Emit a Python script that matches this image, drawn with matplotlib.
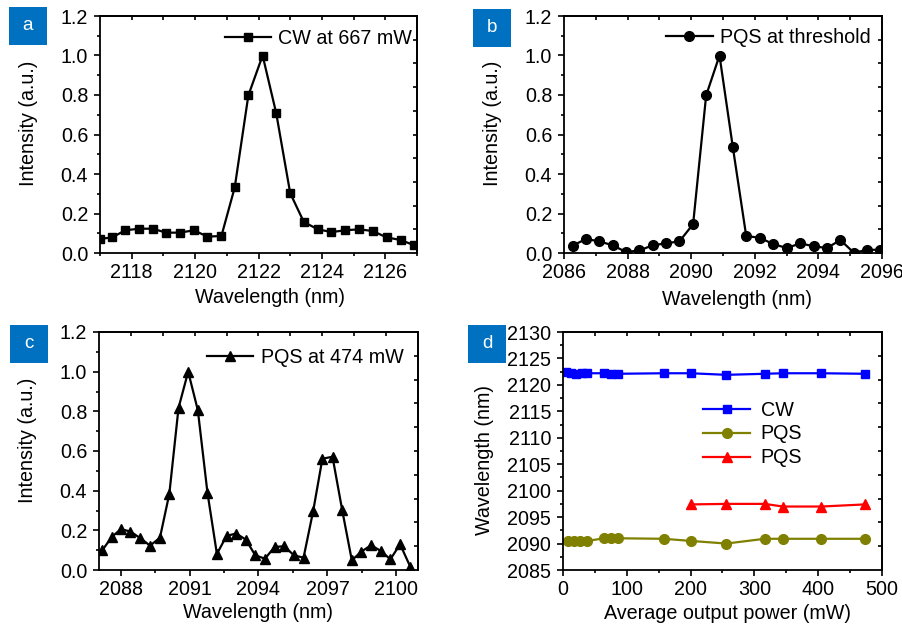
import numpy as np
import matplotlib
matplotlib.use("Agg")
import matplotlib.pyplot as plt
from matplotlib.patches import Rectangle
from matplotlib.ticker import MultipleLocator, NullFormatter, FixedLocator

plt.rcParams['font.family'] = ['Liberation Sans', 'DejaVu Sans']
plt.rcParams['font.size'] = 14.2

# ---------------- data ----------------
# (a) CW at 667 mW
a_wl = [2116.99, 2117.38, 2117.80, 2118.23, 2118.66, 2119.09, 2119.52, 2119.96,
        2120.39, 2120.83, 2121.25, 2121.68, 2122.13, 2122.56, 2123.00, 2123.43,
        2123.87, 2124.30, 2124.74, 2125.18, 2125.61, 2126.04, 2126.48, 2126.90]
a_int = [0.071, 0.079, 0.115, 0.123, 0.123, 0.103, 0.103, 0.115, 0.083, 0.086,
         0.332, 0.798, 1.0, 0.707, 0.303, 0.157, 0.12, 0.106, 0.115, 0.12,
         0.111, 0.079, 0.066, 0.04]

# (b) PQS at threshold
b_wl = [2086.27, 2086.69, 2087.11, 2087.53, 2087.95, 2088.37, 2088.79, 2089.21,
        2089.63, 2090.06, 2090.47, 2090.89, 2091.31, 2091.73, 2092.16, 2092.58,
        2093.01, 2093.43, 2093.85, 2094.27, 2094.69, 2095.11, 2095.53, 2095.95]
b_int = [0.037, 0.071, 0.059, 0.039, 0.005, 0.013, 0.039, 0.049, 0.059, 0.146,
         0.798, 1.0, 0.535, 0.086, 0.077, 0.045, 0.025, 0.049, 0.034, 0.025,
         0.066, 0.002, 0.015, 0.017]

# (c) PQS at 474 mW
c_wl = [2087.20, 2087.62, 2088.01, 2088.43, 2088.86, 2089.28, 2089.71, 2090.12,
        2090.52, 2090.94, 2091.36, 2091.78, 2092.19, 2092.61, 2093.03, 2093.45,
        2093.86, 2094.28, 2094.70, 2095.12, 2095.54, 2095.96, 2096.38, 2096.78,
        2097.22, 2097.64, 2098.06, 2098.48, 2098.90, 2099.32, 2099.74, 2100.16,
        2100.61]
c_int = [0.099, 0.167, 0.206, 0.194, 0.160, 0.123, 0.162, 0.384, 0.817, 1.0,
         0.806, 0.389, 0.081, 0.172, 0.184, 0.153, 0.074, 0.057, 0.116, 0.12,
         0.074, 0.062, 0.298, 0.561, 0.571, 0.303, 0.049, 0.093, 0.125, 0.096,
         0.054, 0.13, 0.015]

# (d) wavelength vs average output power
cw_pow = [4, 12, 21, 30, 38, 65, 76, 86, 158, 200, 256, 316, 345, 405, 473]
cw_wl = [2122.4, 2122.3, 2122.1, 2122.2, 2122.2, 2122.2, 2122.0, 2122.1,
         2122.2, 2122.2, 2121.9, 2122.1, 2122.2, 2122.2, 2122.1]
pqs1_pow = [8, 17, 26, 38, 65, 76, 86, 158, 200, 256, 316, 345, 405, 473]
pqs1_wl = [2090.5, 2090.5, 2090.5, 2090.5, 2091.0, 2091.0, 2091.0, 2090.9,
           2090.5, 2090.0, 2090.9, 2090.9, 2090.9, 2090.9]
pqs2_pow = [200, 256, 316, 345, 405, 473]
pqs2_wl = [2097.4, 2097.5, 2097.5, 2097.0, 2097.0, 2097.4]

W, H = 903, 625
fig = plt.figure(figsize=(W / 100, H / 100), dpi=100)


def make_ax(left, right, top, bottom):
    return fig.add_axes([left / W, 1 - bottom / H, (right - left) / W, (bottom - top) / H])


def style(ax, xlim, ylim, xmaj, xmin, ymaj, ymin, topstep, rightstep):
    ax.set_xlim(*xlim)
    ax.set_ylim(*ylim)
    for s in ax.spines.values():
        s.set_linewidth(1.3)
    ax.xaxis.set_major_locator(MultipleLocator(xmaj))
    ax.xaxis.set_minor_locator(MultipleLocator(xmin))
    ax.yaxis.set_major_locator(MultipleLocator(ymaj))
    ax.yaxis.set_minor_locator(MultipleLocator(ymin))
    ax.tick_params(which='both', direction='out', top=False, right=False, width=1.2)
    ax.tick_params(which='major', length=4.5)
    ax.tick_params(which='minor', length=2.5)
    ax.tick_params(axis='x', pad=3)
    ax.tick_params(axis='y', pad=4)
    # top & right axes with inward ticks
    sx = ax.secondary_xaxis('top')
    tt = np.arange(1, 10) * topstep + xlim[0]
    sx.xaxis.set_major_locator(FixedLocator(tt))
    sx.xaxis.set_major_formatter(NullFormatter())
    sx.tick_params(direction='in', length=3, width=1.2)
    sy = ax.secondary_yaxis('right')
    rt = np.arange(1, 10) * rightstep + ylim[0]
    sy.yaxis.set_major_locator(FixedLocator(rt))
    sy.yaxis.set_major_formatter(NullFormatter())
    sy.tick_params(direction='in', length=3, width=1.2)
    for sec in (sx, sy):
        for s in sec.spines.values():
            s.set_linewidth(1.3)


def labels(ax, xl, yl, xpos, ypos):
    ax.set_xlabel(xl, va='center')
    ax.xaxis.set_label_coords(*xpos)
    ax.set_ylabel(yl, va='center')
    ax.yaxis.set_label_coords(*ypos)


def tag(x, y, letter):
    fig.add_artist(Rectangle((x / W, 1 - (y + 38) / H), 38 / W, 38 / H,
                             transform=fig.transFigure, facecolor='#0070C0',
                             edgecolor='none'))
    fig.text((x + 19) / W, 1 - (y + 19) / H, letter, color='white', fontsize=13.5,
             ha='center', va='center')


leg_kw = dict(frameon=False, handlelength=2.35, handletextpad=0.38,
              borderaxespad=0.0, borderpad=0.0)

# ---- (a)
axa = make_ax(100, 417, 16, 253)
axa.plot(a_wl, a_int, '-s', color='black', lw=1.6, ms=6.2, label='CW at 667 mW')
style(axa, (2117, 2127), (0, 1.2), 2, 1, 0.2, 0.1, 1, 0.12)
axa.set_xticks([2118, 2120, 2122, 2124, 2126])
axa.yaxis.set_major_formatter(plt.FormatStrFormatter('%.1f'))
labels(axa, 'Wavelength (nm)', 'Intensity (a.u.)', (0.536, -0.187), (-0.225, 0.546))
axa.legend(loc='upper right', bbox_to_anchor=(0.985, 0.947), **leg_kw)
tag(9, 7, 'a')

# ---- (b)
axb = make_ax(564, 882, 16, 253)
axb.plot(b_wl, b_int, '-o', color='black', lw=1.6, ms=7, label='PQS at threshold')
style(axb, (2086, 2096), (0, 1.2), 2, 1, 0.2, 0.1, 1, 0.12)
axb.yaxis.set_major_formatter(plt.FormatStrFormatter('%.1f'))
labels(axb, 'Wavelength (nm)', 'Intensity (a.u.)', (0.543, -0.197), (-0.224, 0.546))
axb.legend(loc='upper right', bbox_to_anchor=(0.965, 0.948), **leg_kw)
tag(473, 9, 'b')

# ---- (c)
axc = make_ax(99, 418, 332, 570)
axc.plot(c_wl, c_int, '-^', color='black', lw=1.6, ms=7.5, label='PQS at 474 mW')
style(axc, (2087.06, 2100.94), (0, 1.2), 3, 1.5, 0.2, 0.1, 1.388, 0.12)
axc.set_xticks([2088, 2091, 2094, 2097, 2100])
axc.xaxis.set_minor_locator(FixedLocator([2089.5, 2092.5, 2095.5, 2098.5]))
axc.yaxis.set_major_formatter(plt.FormatStrFormatter('%.1f'))
labels(axc, 'Wavelength (nm)', 'Intensity (a.u.)', (0.497, -0.177), (-0.225, 0.544))
axc.legend(loc='upper right', bbox_to_anchor=(0.955, 0.932), **leg_kw)
tag(10, 325, 'c')

# ---- (d)
axd = make_ax(563, 882, 332, 570)
axd.plot(cw_pow, cw_wl, '-s', color='#0000FF', lw=1.6, ms=6.2, label='CW')
axd.plot(pqs1_pow, pqs1_wl, '-o', color='#808000', lw=1.6, ms=7, label='PQS')
axd.plot(pqs2_pow, pqs2_wl, '-^', color='#FF0000', lw=1.6, ms=7.5, label='PQS')
style(axd, (0, 500), (2085, 2130), 100, 50, 5, 2.5, 50, 4.5)
labels(axd, 'Average output power (mW)', 'Wavelength (nm)', (0.516, -0.181), (-0.245, 0.462))
axd.legend(loc='upper left', bbox_to_anchor=(0.44, 0.712), frameon=False,
           handlelength=2.35, handletextpad=0.55, labelspacing=0.25, borderpad=0.0,
           borderaxespad=0.0)
tag(468, 325, 'd')

fig.savefig('out.png', dpi=100)
